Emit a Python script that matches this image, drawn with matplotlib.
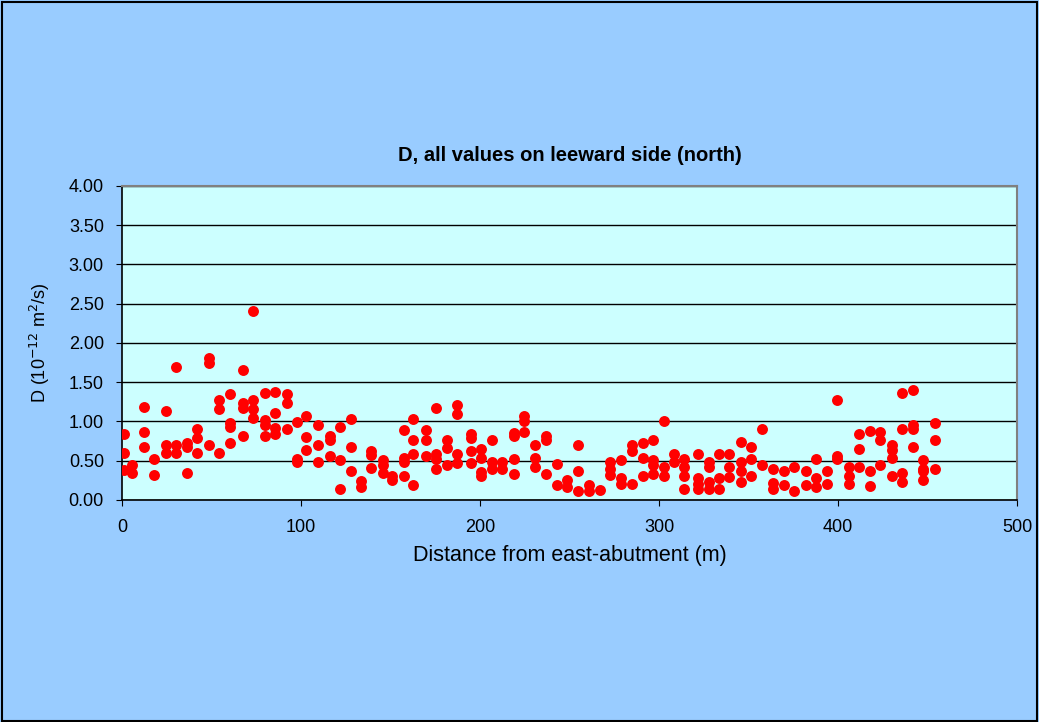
import matplotlib
matplotlib.use("Agg")
import matplotlib.pyplot as plt
from matplotlib.patches import Rectangle

plt.rcParams['font.family'] = ['Liberation Sans', 'DejaVu Sans']

# distance from east abutment (m) and D (1e-12 m2/s)
dist = [1, 1, 1, 5.6, 5.6, 12.3, 12.3, 12.3, 17.9, 17.9,
        24.4, 24.4, 24.4, 30, 30, 30, 36.3, 36.3, 36.3, 41.9,
        41.9, 41.9, 48.4, 48.4, 48.4, 54, 54, 54, 60.5, 60.5,
        60.5, 60.5, 67.8, 67.8, 67.8, 67.8, 73.4, 73.4, 73.4, 73.4,
        79.7, 79.7, 79.7, 79.7, 85.5, 85.5, 85.5, 85.5, 92, 92,
        92, 97.6, 97.6, 97.6, 103, 103, 103, 109.7, 109.7, 109.7,
        116, 116, 116, 121.6, 121.6, 121.6, 128, 128, 128, 133.5,
        133.5, 139, 139, 139, 145.6, 145.6, 145.6, 151, 151, 157.7,
        157.7, 157.7, 157.7, 162.4, 162.4, 162.4, 162.4, 169.8, 169.8, 169.8,
        175.4, 175.4, 175.4, 175.4, 181.7, 181.7, 181.7, 187.3, 187.3, 187.3,
        187.3, 194.8, 194.8, 194.8, 194.8, 200.4, 200.4, 200.4, 200.4, 206.9,
        206.9, 206.9, 212.5, 212.5, 219, 219, 219, 219, 224.6, 224.6,
        224.6, 231, 231, 231, 236.7, 236.7, 236.7, 243, 243, 248.6,
        248.6, 255, 255, 255, 260.7, 260.7, 267, 272.6, 272.6, 272.6,
        279, 279, 279, 284.7, 284.7, 284.7, 291, 291, 291, 296.6,
        296.6, 296.6, 296.6, 303, 303, 303, 308.5, 308.5, 314.1, 314.1,
        314.1, 314.1, 321.6, 321.6, 321.6, 321.6, 328, 328, 328, 328,
        333.7, 333.7, 333.7, 339.3, 339.3, 339.3, 345.6, 345.6, 345.6, 345.6,
        351.2, 351.2, 351.2, 357.7, 357.7, 363.5, 363.5, 363.5, 369.8, 369.8,
        375.4, 375.4, 382, 382, 387.5, 387.5, 387.5, 393.9, 393.9, 399.4,
        399.4, 399.4, 406, 406, 406, 411.7, 411.7, 411.7, 418, 418,
        418, 423.6, 423.6, 423.6, 430.2, 430.2, 430.2, 430.2, 435.8, 435.8,
        435.8, 435.8, 442, 442, 442, 442, 447.6, 447.6, 447.6, 447.6,
        454.2, 454.2, 454.2]
d_val = [0.84, 0.60, 0.38, 0.45, 0.35, 1.19, 0.86, 0.68, 0.52, 0.32,
         1.13, 0.70, 0.60, 1.69, 0.70, 0.60, 0.72, 0.68, 0.35, 0.91,
         0.79, 0.60, 1.81, 1.74, 0.70, 1.28, 1.16, 0.60, 1.35, 0.98,
         0.93, 0.72, 1.66, 1.23, 1.17, 0.82, 2.41, 1.27, 1.16, 1.05,
         1.36, 1.02, 0.96, 0.82, 1.38, 1.11, 0.92, 0.84, 1.35, 1.23,
         0.90, 0.99, 0.52, 0.49, 1.07, 0.80, 0.64, 0.96, 0.70, 0.49,
         0.81, 0.76, 0.56, 0.93, 0.51, 0.14, 1.03, 0.68, 0.37, 0.24,
         0.16, 0.63, 0.57, 0.41, 0.51, 0.45, 0.35, 0.31, 0.25, 0.89,
         0.54, 0.49, 0.31, 1.03, 0.76, 0.59, 0.19, 0.89, 0.76, 0.56,
         1.17, 0.59, 0.52, 0.39, 0.77, 0.66, 0.45, 1.21, 1.09, 0.59,
         0.47, 0.84, 0.79, 0.63, 0.47, 0.65, 0.54, 0.36, 0.31, 0.76,
         0.48, 0.40, 0.48, 0.40, 0.85, 0.81, 0.52, 0.33, 1.07, 1.01,
         0.87, 0.70, 0.54, 0.42, 0.81, 0.76, 0.33, 0.46, 0.19, 0.26,
         0.17, 0.70, 0.37, 0.12, 0.19, 0.12, 0.13, 0.49, 0.39, 0.32,
         0.51, 0.28, 0.20, 0.21, 0.70, 0.62, 0.72, 0.54, 0.31, 0.76,
         0.51, 0.45, 0.33, 1.01, 0.42, 0.31, 0.59, 0.49, 0.52, 0.42,
         0.31, 0.14, 0.59, 0.28, 0.21, 0.14, 0.48, 0.42, 0.23, 0.14,
         0.59, 0.28, 0.14, 0.59, 0.42, 0.29, 0.74, 0.48, 0.37, 0.23,
         0.68, 0.52, 0.31, 0.91, 0.45, 0.40, 0.22, 0.14, 0.37, 0.19,
         0.42, 0.12, 0.37, 0.19, 0.52, 0.28, 0.16, 0.37, 0.21, 1.28,
         0.56, 0.52, 0.42, 0.31, 0.21, 0.84, 0.65, 0.42, 0.88, 0.37,
         0.18, 0.86, 0.76, 0.45, 0.70, 0.64, 0.54, 0.31, 1.36, 0.91,
         0.35, 0.23, 1.40, 0.96, 0.91, 0.68, 0.51, 0.40, 0.37, 0.25,
         0.98, 0.76, 0.40]

fig = plt.figure(figsize=(10.39, 7.22), dpi=100, facecolor='#99CCFF')
fig.patches.append(Rectangle((0.002, 0.002), 0.996, 0.995, transform=fig.transFigure,
                             fill=False, edgecolor='black', linewidth=1.5))

ax = fig.add_axes([0.1174, 0.3075, 0.8614, 0.4349])
ax.set_facecolor('#CCFFFF')
ax.scatter(dist, d_val, s=62, color='#FF0000', zorder=3, linewidths=0)

ax.set_xlim(0, 500)
ax.set_ylim(0, 4)
ax.set_xticks(range(0, 501, 100))
ax.set_yticks([i * 0.5 for i in range(9)])
ax.set_yticklabels(['%.2f' % (i * 0.5) for i in range(9)])
ax.yaxis.grid(True, color='black', linewidth=1)
ax.set_axisbelow(True)
ax.tick_params(labelsize=13, direction='out', length=4, colors='black')
ax.tick_params(axis='y', pad=9)
ax.tick_params(axis='x', pad=10)

for side in ['top', 'right']:
    ax.spines[side].set_color('#808080')
    ax.spines[side].set_linewidth(1.5)
for side in ['left', 'bottom']:
    ax.spines[side].set_color('black')
    ax.spines[side].set_linewidth(1.2)

ax.set_title('D, all values on leeward side (north)', fontsize=14.5, fontweight='bold', pad=18)
ax.set_xlabel('Distance from east-abutment (m)', fontsize=15.5, labelpad=6)
ax.set_ylabel('D (10$^{-12}$ m$^2$/s)', fontsize=13, labelpad=12)

fig.savefig('out.png', dpi=100, facecolor=fig.get_facecolor())
